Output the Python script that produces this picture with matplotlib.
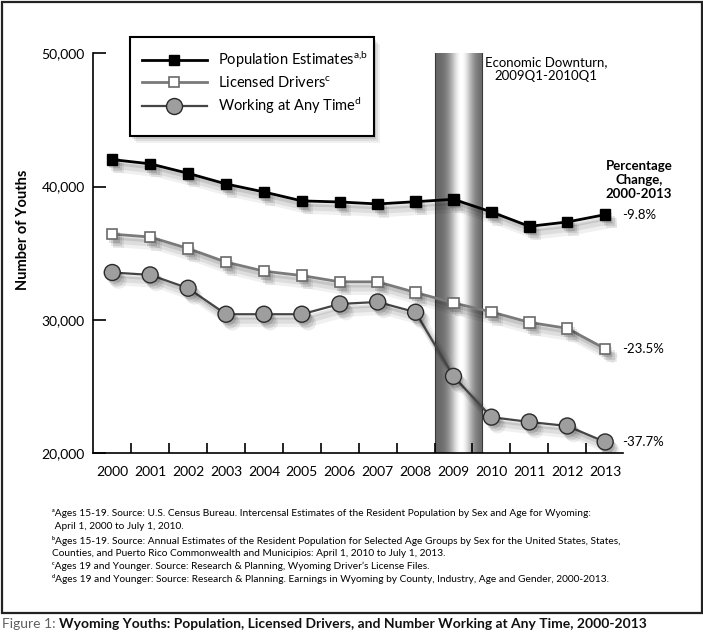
import matplotlib
matplotlib.use('Agg')
import matplotlib.pyplot as plt
import matplotlib.patheffects as pe
from matplotlib.patches import Rectangle
from matplotlib.lines import Line2D
import numpy as np

plt.rcParams['font.family'] = ['Lato', 'DejaVu Sans']
plt.rcParams['mathtext.fontset'] = 'custom'
plt.rcParams['mathtext.rm'] = 'Lato'
plt.rcParams['mathtext.it'] = 'Lato:italic'
plt.rcParams['mathtext.bf'] = 'Lato:bold'

# ---------------- data ----------------
years = list(range(2000, 2014))
population = [42030, 41710, 41000, 40200, 39600, 38930, 38850, 38700, 38870, 39050, 38100, 37020, 37350, 37900]
drivers = [36440, 36220, 35360, 34340, 33660, 33330, 32860, 32860, 32060, 31280, 30600, 29820, 29370, 27840]
working = [33560, 33380, 32380, 30430, 30430, 30430, 31200, 31350, 30580, 25770, 22710, 22350, 22050, 20850]
series_labels = ['Population Estimates$^{\\mathrm{a{,}b}}$',
                 'Licensed Drivers$^{\\mathrm{c}}$',
                 'Working at Any Time$^{\\mathrm{d}}$']
pct_labels = ['-9.8%', '-23.5%', '-37.7%']
y_ticks = [20000, 30000, 40000, 50000]
downturn_start, downturn_end = 2008.5, 2009.75
downturn_text = 'Economic Downturn,\n2009Q1-2010Q1'
pct_title = 'Percentage\nChange,\n2000-2013'
y_label = 'Number of Youths'
foot_marks = ['\u1d43', '', '\u1d47', '', '\u1d9c', '\u1d48']
footnotes = [
    'Ages 15-19. Source: U.S. Census Bureau. Intercensal Estimates of the Resident Population by Sex and Age for Wyoming:',
    ' April 1, 2000 to July 1, 2010.',
    'Ages 15-19. Source: Annual Estimates of the Resident Population for Selected Age Groups by Sex for the United States, States,',
    'Counties, and Puerto Rico Commonwealth and Municipios: April 1, 2010 to July 1, 2013.',
    'Ages 19 and Younger. Source: Research & Planning, Wyoming Driver\u2019s License Files.',
    'Ages 19 and Younger: Source: Research & Planning. Earnings in Wyoming by County, Industry, Age and Gender, 2000-2013.',
]
caption_prefix = 'Figure 1: '
caption_text = 'Wyoming Youths: Population, Licensed Drivers, and Number Working at Any Time, 2000-2013'

# ---------------- layout helpers ----------------
W, H = 703, 644
fig = plt.figure(figsize=(W / 100, H / 100), dpi=100)
fig.patch.set_facecolor('white')


def fx(px):
    return px / W


def fy(py):
    return 1 - py / H


ax = fig.add_axes([fx(93.3), fy(453.3), (623 - 93.3) / W, (453.3 - 53.3) / H])

# ---------------- downturn shading ----------------
t = np.linspace(0, 1, 200)
grad = 0.40 + 0.60 * np.exp(-((t - 0.55) / 0.24) ** 2)
ax.imshow(grad[np.newaxis, :], extent=[downturn_start, downturn_end, 20000, 50000],
          aspect='auto', cmap='gray', vmin=0, vmax=1, zorder=1, interpolation='bilinear')
for xv in (downturn_start, downturn_end):
    ax.axvline(xv, color='#3a3a3a', lw=0.8, zorder=1.5)


def line_fx(lw):
    layers = [(1.5, -2.5, 0.10, 1.0), (3.0, -4.5, 0.08, 3.0), (4.5, -6.0, 0.06, 5.0)]
    return [pe.SimpleLineShadow(offset=(dx, dy), shadow_color='black', alpha=a, linewidth=lw + w)
            for dx, dy, a, w in layers] + [pe.Normal()]


def marker_fx():
    layers = [(1.5, -2.5, 0.12), (3.0, -4.5, 0.09), (4.5, -6.0, 0.07)]
    return [pe.SimplePatchShadow(offset=(dx, dy), shadow_rgbFace='black', alpha=a)
            for dx, dy, a in layers] + [pe.Normal()]


styles = [
    dict(color='black', lw=2.0, marker='s', ms=7.5, mfc='black', mec='black', mew=1.0),
    dict(color='#7a7a7a', lw=2.0, marker='s', ms=7.5, mfc='white', mec='#6a6a6a', mew=1.2),
    dict(color='#454545', lw=1.6, marker='o', ms=11.5, mfc='#9e9e9e', mec='#2a2a2a', mew=1.0),
]
data = [population, drivers, working]

for vals, st in zip(data, styles):
    ax.plot(years, vals, color=st['color'], lw=st['lw'], zorder=4, path_effects=line_fx(st['lw']),
            solid_joinstyle='round')
for vals, st in zip(data, styles):
    ax.plot(years, vals, ls='none', marker=st['marker'], ms=st['ms'], mfc=st['mfc'],
            mec=st['mec'], mew=st['mew'], zorder=5, path_effects=marker_fx())

ax.set_xlim(1999.5, 2013.47)
ax.set_ylim(20000, 50000)

# ---------------- axes styling ----------------
for s in ('top', 'right'):
    ax.spines[s].set_visible(False)
for s in ('left', 'bottom'):
    ax.spines[s].set_linewidth(1.2)
    ax.spines[s].set_color('black')

ax.set_yticks(y_ticks)
ax.set_yticklabels([f'{v:,}' for v in y_ticks])
ax.tick_params(axis='y', direction='in', length=9, width=1.2, labelsize=10, pad=6)
ax.set_xticks(years)
ax.set_xticklabels([str(y) for y in years])
ax.tick_params(axis='x', which='major', length=0, labelsize=10, pad=9)
ax.set_xticks([y + 0.5 for y in years[:-1]], minor=True)
ax.tick_params(axis='x', which='minor', direction='in', length=7, width=1.2)

fig.text(fx(23), fy(230), y_label, rotation=90, fontweight='bold', fontsize=10.5,
         ha='center', va='center')

# ---------------- annotations ----------------
for vals, lbl in zip(data, pct_labels):
    ax.annotate(lbl, xy=(years[-1], vals[-1]), xytext=(12.5, 0), textcoords='offset points',
                ha='left', va='center', fontsize=9.5, annotation_clip=False)

fig.text(fx(639), fy(180), pct_title, ha='center', va='center', fontweight='bold',
         fontsize=9.5, linespacing=1.2)
fig.text(fx(546), fy(69), downturn_text, ha='center', va='center', fontsize=9.5, linespacing=1.15)

# ---------------- legend ----------------
for dx, dy, a in [(2, 3, 0.10), (4, 5, 0.08), (6, 7, 0.06)]:
    fig.add_artist(Rectangle((fx(130 + dx), fy(136 + dy)), 244 / W, 99 / H, transform=fig.transFigure,
                             facecolor='black', edgecolor='none', alpha=a, zorder=2))
fig.add_artist(Rectangle((fx(130), fy(136)), 244 / W, 99 / H, transform=fig.transFigure,
                         facecolor='white', edgecolor='black', lw=1.5, zorder=3))
handles = [Line2D([], [], color=st['color'], lw=st['lw'], marker=st['marker'], ms=st['ms'],
                  mfc=st['mfc'], mec=st['mec'], mew=st['mew']) for st in styles]
leg = fig.legend(handles, series_labels, loc='upper left', bbox_to_anchor=(fx(141.7), fy(50)),
                 frameon=False, borderpad=0, borderaxespad=0, handlelength=4.45,
                 handletextpad=0.8, labelspacing=0.35, fontsize=10.5, numpoints=1)
leg.set_zorder(4)

# ---------------- footnotes & frame ----------------
foot_y = [514, 526.5, 540.5, 553.3, 566.7, 579.3]
for mark, txt, yy in zip(foot_marks, footnotes, foot_y):
    fig.text(fx(51.7), fy(yy), mark + txt, ha='left', va='center', fontsize=7.3)

fig.add_artist(Rectangle((fx(1.5), fy(613)), (701.5 - 1.5) / W, (613 - 1.5) / H,
                         transform=fig.transFigure, fill=False, edgecolor='#222222', lw=1.6))

t1 = fig.text(fx(2), fy(623.5), caption_prefix, color='#606060', fontsize=10, ha='left', va='center')
ax.annotate(caption_text, xy=(1, 0.5), xycoords=t1, ha='left', va='center', fontsize=10,
            fontweight='bold', color='#111111', annotation_clip=False)

fig.savefig('out.png', dpi=100, facecolor='white')
